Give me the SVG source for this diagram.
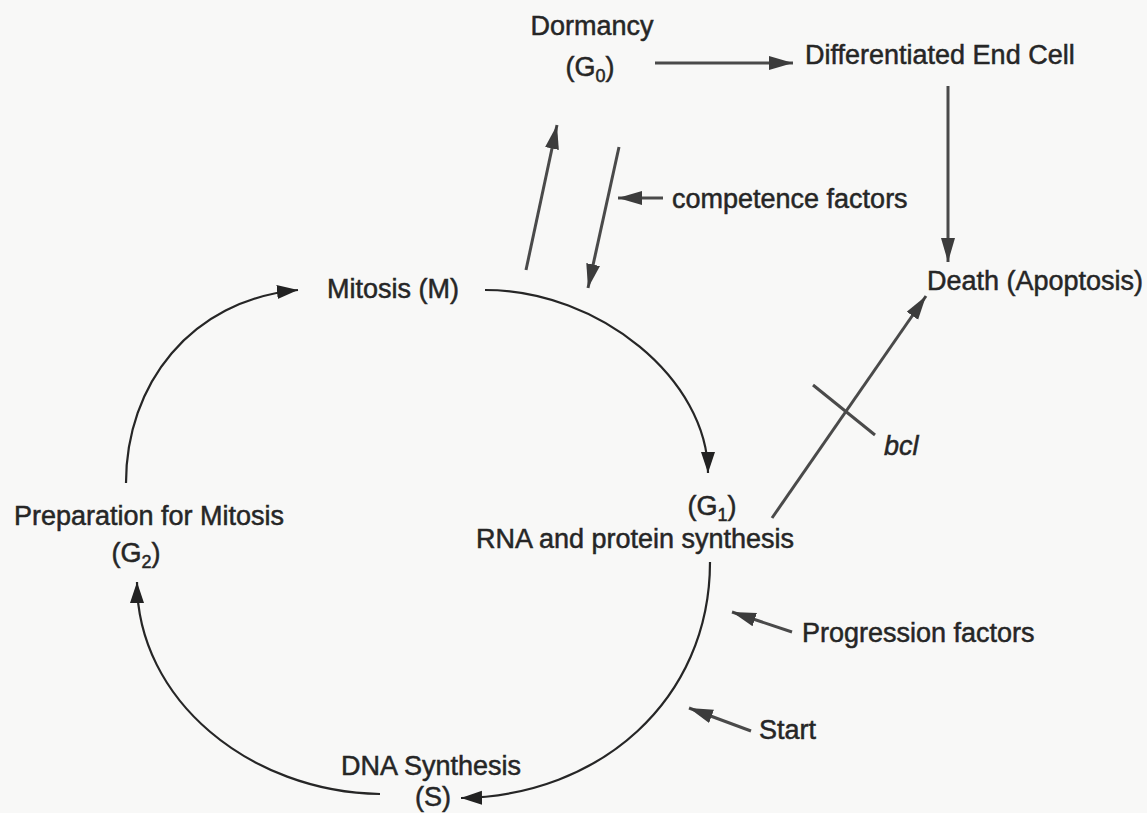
<svg xmlns="http://www.w3.org/2000/svg" width="1147" height="813" viewBox="0 0 1147 813">
<style>
.t{font-family:"Liberation Sans",Arial,sans-serif;font-size:27px;fill:#262626;stroke:#262626;stroke-width:0.5}
.sub{font-size:18px}
.s{fill:none;stroke:#4a4a4a;stroke-width:3}
.c{fill:none;stroke:#262626;stroke-width:2.2}
</style>
<defs>
<marker id="ah" markerUnits="userSpaceOnUse" markerWidth="26" markerHeight="16" refX="24" refY="7" orient="auto">
<path d="M0,0 L24,7 L0,14 z" fill="#3c3c3c"/>
</marker>
<marker id="ac" markerUnits="userSpaceOnUse" markerWidth="24" markerHeight="16" refX="21" refY="7" orient="auto">
<path d="M0,0 L21,7 L0,14 z" fill="#222"/>
</marker>
</defs>
<rect width="1147" height="813" fill="#f8f8f7"/>
<g id="connectors">
<path class="s" d="M655,63 L793,63" marker-end="url(#ah)"/>
<path class="s" d="M948,86 L948,262" marker-end="url(#ah)"/>
<path class="s" d="M526,270 L557,125" marker-end="url(#ah)"/>
<path class="s" d="M619,147 L588,288" marker-end="url(#ah)"/>
<path class="s" d="M663,198 L618,198" marker-end="url(#ah)"/>
<path class="s" d="M772,518 L926,296" marker-end="url(#ah)"/>
<path class="s" d="M813,385 L875,435"/>
<path class="s" d="M792,632 L732,612" marker-end="url(#ah)"/>
<path class="s" d="M751,731 L689,708" marker-end="url(#ah)"/>
<path class="c" d="M126,483 C126,385 190,300 298,290" marker-end="url(#ac)"/>
<path class="c" d="M485,290 C600,290 708,380 708,473" marker-end="url(#ac)"/>
<path class="c" d="M710,562 C710,700 600,796 461,798" marker-end="url(#ac)"/>
<path class="c" d="M380,794 C250,792 137,700 137,582" marker-end="url(#ac)"/>
</g>
<g id="dormancy"><text class="t" x="592" y="35" text-anchor="middle">Dormancy</text><text class="t" x="590" y="76" text-anchor="middle">(G<tspan class="sub" dy="6">0</tspan><tspan dy="-6">)</tspan></text></g>
<g id="differentiated"><text class="t" x="805" y="64">Differentiated End Cell</text></g>
<g id="death"><text class="t" x="927" y="290">Death (Apoptosis)</text></g>
<g id="competence"><text class="t" x="672" y="208">competence factors</text></g>
<g id="mitosis"><text class="t" x="327" y="298">Mitosis (M)</text></g>
<g id="bcl"><text class="t" x="884" y="455" font-style="italic">bcl</text></g>
<g id="g1"><text class="t" x="712" y="515" text-anchor="middle">(G<tspan class="sub" dy="6">1</tspan><tspan dy="-6">)</tspan></text><text class="t" x="635" y="548" text-anchor="middle">RNA and protein synthesis</text></g>
<g id="g2"><text class="t" x="149" y="525" text-anchor="middle">Preparation for Mitosis</text><text class="t" x="136" y="562" text-anchor="middle">(G<tspan class="sub" dy="6">2</tspan><tspan dy="-6">)</tspan></text></g>
<g id="progression"><text class="t" x="802" y="642">Progression factors</text></g>
<g id="start"><text class="t" x="759" y="739">Start</text></g>
<g id="s"><text class="t" x="431" y="775" text-anchor="middle">DNA Synthesis</text><text class="t" x="433" y="806" text-anchor="middle">(S)</text></g>
</svg>
